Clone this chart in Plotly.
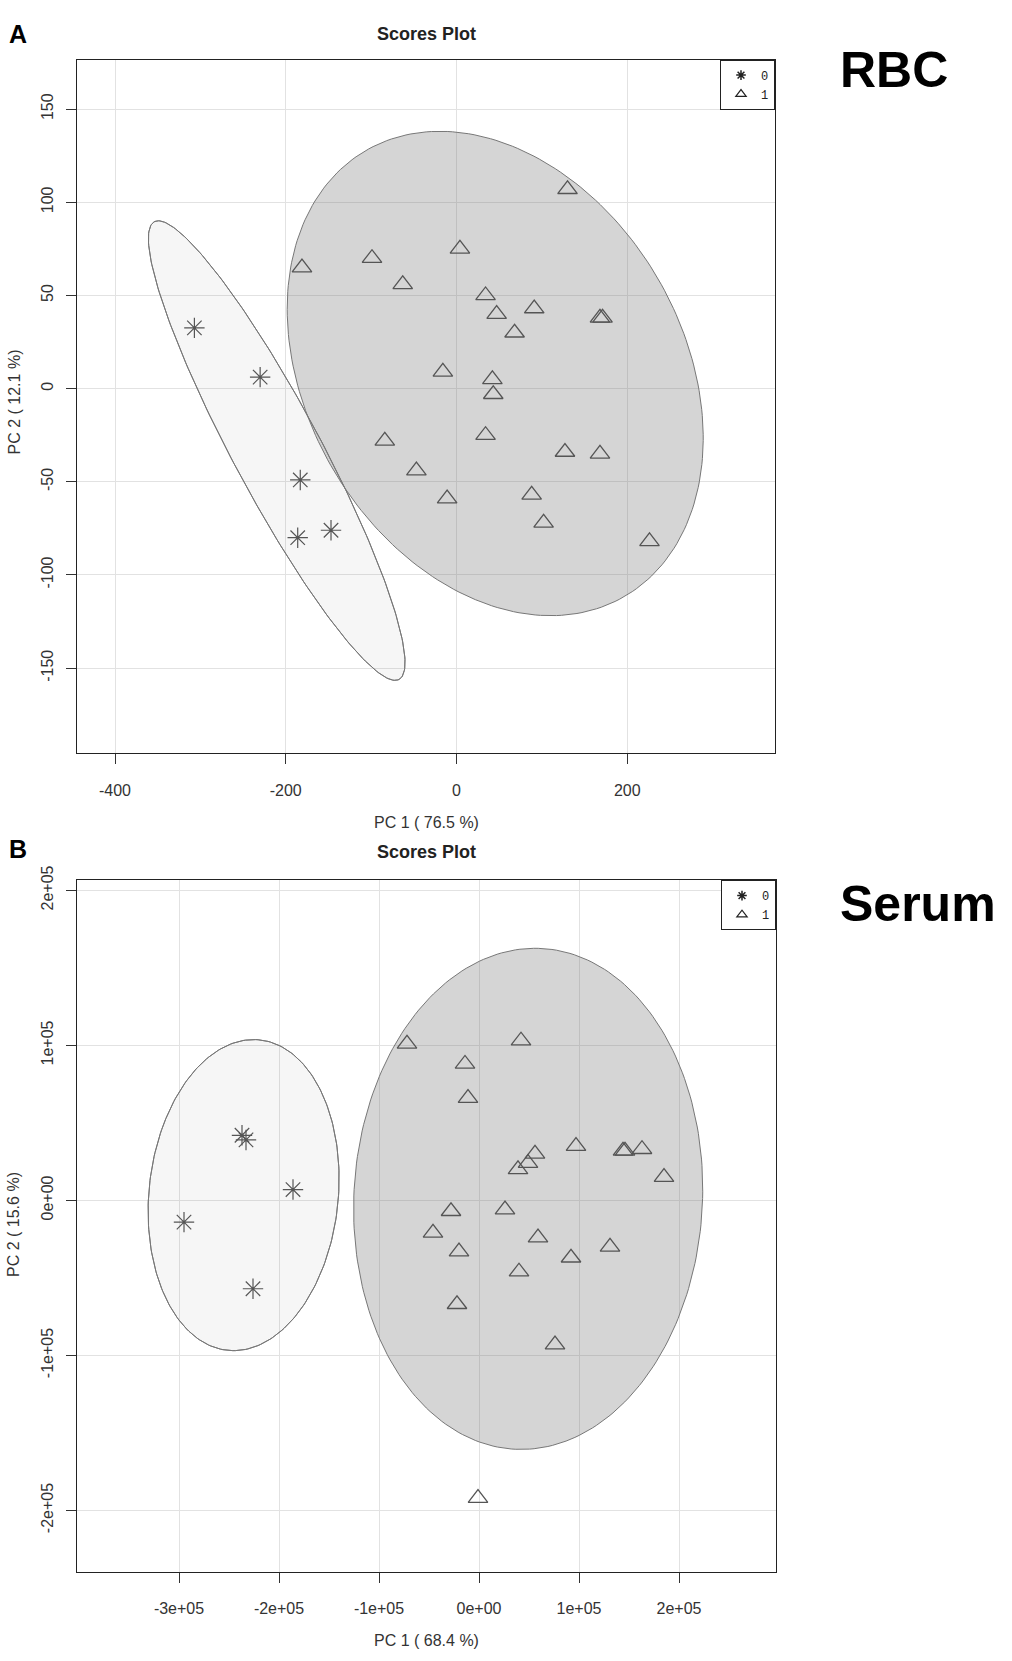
import numpy as np
import plotly.graph_objects as go

# ---------------- data ----------------
# Panel A (RBC)
rbc_x0 = [-307, -230, -183, -186, -147]
rbc_y0 = [32.6, 6.2, -49, -80, -76]
rbc_x1 = [-181, -99, -63, 4, 130, 34, 47, 91, 68, 168, 171, -16, 42, 43,
          -84, 34, -47, -11, 127, 168, 88, 102, 226]
rbc_y1 = [65, 70, 56, 75, 107, 50, 40, 43, 30, 38, 38, 9, 5, -3,
          -28, -25, -44, -59, -34, -35, -57, -72, -82]

# Panel B (Serum)
ser_x0 = [-237000, -233000, -186000, -295000, -226000]
ser_y0 = [42000, 39000, 7000, -14000, -57000]
ser_x1 = [-72000, 42000, -14000, -11000, 97000, 56000, 49000, 39000, 144000,
          146000, 163000, 185000, -28000, 26000, -46000, -20000, 59000,
          131000, 92000, 40000, -22000, 76000, -1000]
ser_y1 = [101000, 103000, 88000, 66000, 35000, 30000, 24000, 20000, 32000,
          32000, 33000, 15000, -7000, -6000, -21000, -33000, -24000,
          -30000, -37000, -46000, -67000, -93000, -192000]

groups = ["0", "1"]

rbc_xticks = [-400, -200, 0, 200]
rbc_xtext = ["-400", "-200", "0", "200"]
rbc_yticks = [-150, -100, -50, 0, 50, 100, 150]
rbc_ytext = ["-150", "-100", "-50", "0", "50", "100", "150"]
ser_xticks = [-300000, -200000, -100000, 0, 100000, 200000]
ser_xtext = ["-3e+05", "-2e+05", "-1e+05", "0e+00", "1e+05", "2e+05"]
ser_yticks = [-200000, -100000, 0, 100000, 200000]
ser_ytext = ["-2e+05", "-1e+05", "0e+00", "1e+05", "2e+05"]

# ---------------- helpers ----------------
W, H = 1012, 1661
def px(x):
    return x / W
def py(y):
    return 1 - y / H

CHI = np.sqrt(5.991465)  # sqrt(qchisq(0.95, 2))

def ellipse(xs, ys, n=240):
    xs = np.asarray(xs, float); ys = np.asarray(ys, float)
    c = np.array([xs.mean(), ys.mean()])
    cov = np.cov(np.vstack([xs, ys]))
    vals, vecs = np.linalg.eigh(cov)
    t = np.linspace(0, 2 * np.pi, n)
    circ = np.vstack([np.cos(t), np.sin(t)])
    pts = vecs @ (np.sqrt(vals)[:, None] * circ) * CHI
    return pts[0] + c[0], pts[1] + c[1]

MARK = "#555555"
ELL_LINE = "#777777"
FILL0 = "rgba(100,100,100,0.06)"
FILL1 = "rgba(100,100,100,0.27)"
FONT = "Liberation Sans, Arial, sans-serif"

fig = go.Figure()

def add_panel(x0, y0, x1, y1, xa, ya, leg):
    ex0, ey0 = ellipse(x0, y0)
    ex1, ey1 = ellipse(x1, y1)
    fig.add_trace(go.Scatter(x=ex0, y=ey0, mode="lines", fill="toself",
                             fillcolor=FILL0, line=dict(color=ELL_LINE, width=1),
                             showlegend=False, hoverinfo="skip", xaxis=xa, yaxis=ya))
    fig.add_trace(go.Scatter(x=ex1, y=ey1, mode="lines", fill="toself",
                             fillcolor=FILL1, line=dict(color=ELL_LINE, width=1),
                             showlegend=False, hoverinfo="skip", xaxis=xa, yaxis=ya))
    fig.add_trace(go.Scatter(x=ex0, y=ey0, mode="lines",
                             line=dict(color=ELL_LINE, width=1),
                             showlegend=False, hoverinfo="skip", xaxis=xa, yaxis=ya))
    fig.add_trace(go.Scatter(x=x0, y=y0, mode="markers", name=groups[0],
                             marker=dict(symbol="asterisk-open", size=17, color=MARK,
                                         line=dict(color=MARK, width=1.2)),
                             showlegend=False, xaxis=xa, yaxis=ya))
    fig.add_trace(go.Scatter(x=x1, y=y1, mode="markers", name=groups[1],
                             marker=dict(symbol="triangle-up-open", size=17,
                                         color=MARK, line=dict(color=MARK, width=1.3)),
                             showlegend=False, xaxis=xa, yaxis=ya))
    # legend entries (small symbols)
    fig.add_trace(go.Scatter(x=[None], y=[None], mode="markers", name=groups[0],
                             marker=dict(symbol="asterisk-open", size=8, color="#222",
                                         line=dict(color="#222", width=1.5)),
                             legend=leg, xaxis=xa, yaxis=ya))
    fig.add_trace(go.Scatter(x=[None], y=[None], mode="markers", name=groups[1],
                             marker=dict(symbol="triangle-up-open", size=9,
                                         color="#222", line=dict(color="#222", width=1.2)),
                             legend=leg, xaxis=xa, yaxis=ya))

add_panel(rbc_x0, rbc_y0, rbc_x1, rbc_y1, "x", "y", "legend")
add_panel(ser_x0, ser_y0, ser_x1, ser_y1, "x2", "y2", "legend2")

axis_common = dict(showgrid=True, gridcolor="#e2e2e2", gridwidth=1,
                   zeroline=False, showline=True, mirror=True,
                   linecolor="#222", linewidth=1.3,
                   ticks="outside", ticklen=10, tickcolor="#333", tickwidth=1,
                   tickfont=dict(family=FONT, size=16, color="#333"),
                   fixedrange=True)

A_dom_x = [px(77), px(775)]
A_dom_y = [py(745), py(45)]
B_dom_x = [px(77), px(776)]
B_dom_y = [py(1571), py(873)]

legend_common = dict(bordercolor="#222", borderwidth=1, bgcolor="white",
                     font=dict(family="Liberation Mono, monospace", size=12, color="#222"),
                     itemwidth=30, xanchor="right", yanchor="top",
                     tracegroupgap=0, itemclick=False, itemdoubleclick=False)

fig.update_layout(
    width=W, height=H,
    margin=dict(l=0, r=0, t=0, b=0),
    paper_bgcolor="white", plot_bgcolor="white",
    xaxis=dict(domain=A_dom_x, range=[-444.5, 373], tickvals=rbc_xticks,
               ticktext=rbc_xtext, ticklabelstandoff=12, anchor="y", **axis_common),
    yaxis=dict(domain=A_dom_y, range=[-195.7, 176.6], tickvals=rbc_yticks,
               ticktext=rbc_ytext, tickangle=-90, ticklabelstandoff=6,
               anchor="x", **axis_common),
    xaxis2=dict(domain=B_dom_x, range=[-402000, 297000], tickvals=ser_xticks,
                ticktext=ser_xtext, ticklabelstandoff=12, anchor="y2", **axis_common),
    yaxis2=dict(domain=B_dom_y, range=[-239600, 206600], tickvals=ser_yticks,
                ticktext=ser_ytext, tickangle=-90, ticklabelstandoff=6,
                anchor="x2", **axis_common),
    legend=dict(x=A_dom_x[1], y=A_dom_y[1], **legend_common),
    legend2=dict(x=B_dom_x[1], y=B_dom_y[1], **legend_common),
    showlegend=True,
)

def ann(text, x, y, size, bold=False, angle=0, color="#222", xanchor="center"):
    fig.add_annotation(text=("<b>%s</b>" % text) if bold else text,
                       x=px(x), y=py(y), xref="paper", yref="paper",
                       xanchor=xanchor, yanchor="middle", showarrow=False,
                       textangle=angle,
                       font=dict(family=FONT, size=size, color=color))

# Panel labels
ann("A", 7, 19, 25, bold=True, color="black", xanchor="left")
ann("B", 7, 842, 25, bold=True, color="black", xanchor="left")
# Titles
ann("Scores Plot", 426, 19, 18, bold=True)
ann("Scores Plot", 426, 845, 18, bold=True)
# Axis titles
ann("PC 1 ( 76.5 %)", 426, 815, 16, color="#333")
ann("PC 2 ( 12.1 %)", 14, 391, 16, angle=-90, color="#333")
ann("PC 1 ( 68.4 %)", 426, 1640, 16, color="#333")
ann("PC 2 ( 15.6 %)", 14, 1221, 16, angle=-90, color="#333")
# Side labels
ann("RBC", 838, 55, 50, bold=True, color="black", xanchor="left")
ann("Serum", 838, 897, 50, bold=True, color="black", xanchor="left")

page_fix = ("document.body.style.margin='0';"
            "document.body.style.overflow='hidden';"
            "var d=document.getElementById('{plot_id}');"
            "d.style.position='absolute';d.style.left='0px';d.style.top='0px';")

fig.write_html("out.html", post_script=page_fix, config={"displayModeBar": False})
